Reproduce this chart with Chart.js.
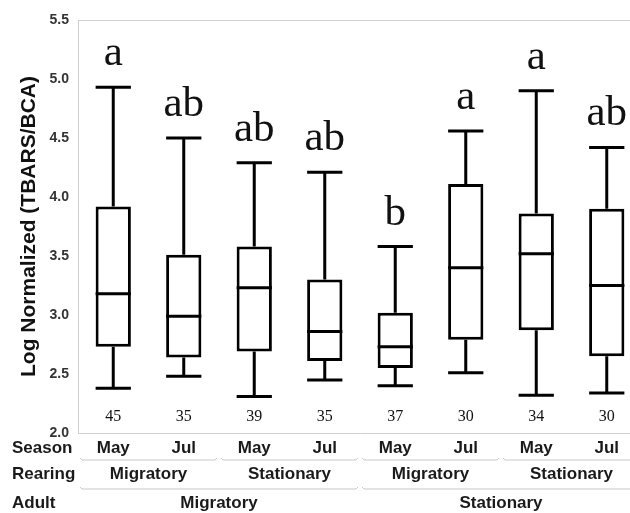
<!DOCTYPE html>
<html>
<head>
<meta charset="utf-8">
<script src="https://cdn.jsdelivr.net/npm/chart.js@4"></script>
<style>
  html, body { margin: 0; padding: 0; background: #fff; overflow: hidden; }
  #wrap { position: relative; width: 642px; height: 513px; }
</style>
</head>
<body>
<div id="wrap"><canvas id="boxChart"></canvas></div>
<script>
// 박스플롯 데이터
const seasons = ['May', 'Jul', 'May', 'Jul', 'May', 'Jul', 'May', 'Jul'];
const rearing = ['Migratory', 'Stationary', 'Migratory', 'Stationary'];
const adult = ['Migratory', 'Stationary'];
const whiskerMin = [2.38, 2.48, 2.31, 2.45, 2.40, 2.51, 2.32, 2.34];
const q1 = [2.73, 2.64, 2.69, 2.61, 2.55, 2.79, 2.87, 2.65];
const median = [3.18, 2.99, 3.23, 2.86, 2.73, 3.40, 3.52, 3.25];
const q3 = [3.92, 3.51, 3.58, 3.30, 3.02, 4.11, 3.86, 3.90];
const whiskerMax = [4.93, 4.50, 4.29, 4.21, 3.58, 4.56, 4.90, 4.42];
const groupLetters = ['a', 'ab', 'ab', 'ab', 'b', 'a', 'a', 'ab'];
const counts = [45, 35, 39, 35, 37, 30, 34, 30];
const yTicks = [2.0, 2.5, 3.0, 3.5, 4.0, 4.5, 5.0, 5.5];

const SANS = '"Liberation Sans", Arial, sans-serif';
const SERIF = '"Liberation Serif", "DejaVu Serif", serif';

/**
 * 수염, 중앙값, 글자, 하단 계층 라벨을 그리는 플러그인
 */
const boxExtras = {
    id: 'boxExtras',
    afterDatasetsDraw(chart) {
        const ctx = chart.ctx;
        const y = chart.scales.y;
        const x = chart.scales.x;
        const area = chart.chartArea;
        const bars = chart.getDatasetMeta(0).data;

        ctx.save();
        // 상단 테두리
        ctx.strokeStyle = '#cfcfcf';
        ctx.lineWidth = 1;
        ctx.beginPath();
        ctx.moveTo(area.left, area.top + 0.5);
        ctx.lineTo(area.right, area.top + 0.5);
        ctx.stroke();

        ctx.strokeStyle = '#000';
        ctx.lineWidth = 3;
        ctx.lineCap = 'butt';
        bars.forEach((bar, i) => {
            const cx = bar.x;
            const half = bar.width / 2;
            const pMin = y.getPixelForValue(whiskerMin[i]);
            const pMax = y.getPixelForValue(whiskerMax[i]);
            const pQ1 = y.getPixelForValue(q1[i]);
            const pQ3 = y.getPixelForValue(q3[i]);
            const pMed = y.getPixelForValue(median[i]);

            ctx.beginPath();
            ctx.moveTo(cx, pQ3);
            ctx.lineTo(cx, pMax);
            ctx.moveTo(cx - half, pMax);
            ctx.lineTo(cx + half, pMax);
            ctx.moveTo(cx, pQ1);
            ctx.lineTo(cx, pMin);
            ctx.moveTo(cx - half, pMin);
            ctx.lineTo(cx + half, pMin);
            ctx.moveTo(cx - half, pMed);
            ctx.lineTo(cx + half, pMed);
            ctx.stroke();

            // 유의성 문자
            ctx.fillStyle = '#111';
            ctx.textAlign = 'center';
            ctx.textBaseline = 'alphabetic';
            ctx.font = '43px ' + SERIF;
            ctx.fillText(groupLetters[i], cx, pMax - 22);

            // 표본 수
            ctx.font = '16px ' + SERIF;
            ctx.textBaseline = 'middle';
            ctx.fillText(String(counts[i]), cx, y.getPixelForValue(2.0) - 16);
        });

        // 하단 계층 라벨
        const bottom = area.bottom;
        const step = x.getPixelForValue(1) - x.getPixelForValue(0);
        ctx.fillStyle = '#1a1a1a';
        ctx.textBaseline = 'middle';
        ctx.font = 'bold 17px ' + SANS;

        ctx.textAlign = 'left';
        ctx.fillText('Season', 12, bottom + 15);
        ctx.fillText('Rearing', 12, bottom + 41);
        ctx.fillText('Adult', 12, bottom + 70);

        ctx.textAlign = 'center';
        seasons.forEach((s, i) => ctx.fillText(s, x.getPixelForValue(i), bottom + 15));

        const bracket = (x0, x1, yy) => {
            ctx.beginPath();
            ctx.moveTo(x0, yy - 2);
            ctx.lineTo(x0 + 2, yy);
            ctx.lineTo(x1 - 2, yy);
            ctx.lineTo(x1, yy - 2);
            ctx.stroke();
        };

        ctx.strokeStyle = '#c8c8c8';
        ctx.lineWidth = 1;
        rearing.forEach((r, j) => {
            const x0 = x.getPixelForValue(j * 2) - step / 2 + 2;
            const x1 = x.getPixelForValue(j * 2 + 1) + step / 2 - 2;
            bracket(x0, x1, bottom + 27);
            ctx.fillText(r, (x0 + x1) / 2, bottom + 41);
        });
        adult.forEach((a, k) => {
            const x0 = x.getPixelForValue(k * 4) - step / 2 + 2;
            const x1 = x.getPixelForValue(k * 4 + 3) + step / 2 - 2;
            bracket(x0, x1, bottom + 56);
            ctx.fillText(a, (x0 + x1) / 2, bottom + 70);
        });
        ctx.restore();
    }
};

window.addEventListener('DOMContentLoaded', () => {
    const ctx = document.getElementById('boxChart').getContext('2d');
    new Chart(ctx, {
        type: 'bar',
        data: {
            labels: seasons.map((s, i) => s + i),
            datasets: [{
                label: 'IQR',
                data: q1.map((v, i) => [v, q3[i]]),
                backgroundColor: '#ffffff',
                borderColor: '#000000',
                borderWidth: 3,
                borderSkipped: false,
                categoryPercentage: 1,
                barPercentage: 0.5
            }]
        },
        options: {
            responsive: true,
            maintainAspectRatio: false,
            animation: false,
            layout: { padding: { top: 20, right: 0, left: 0, bottom: 0 } },
            plugins: {
                legend: { display: false },
                tooltip: { enabled: false },
                title: { display: false }
            },
            scales: {
                x: {
                    grid: { display: false },
                    border: { display: true, color: '#cfcfcf', width: 1 },
                    ticks: { display: false },
                    afterFit: scale => { scale.height = 80; }
                },
                y: {
                    min: 2.0,
                    max: 5.5,
                    afterBuildTicks: scale => {
                        scale.ticks = yTicks.map(v => ({ value: v }));
                    },
                    grid: { display: false, drawTicks: false },
                    border: { display: true, color: '#cfcfcf', width: 1 },
                    ticks: {
                        padding: 9,
                        color: '#333',
                        font: { family: SANS, size: 14, weight: 'bold' },
                        callback: v => Number(v).toFixed(1)
                    },
                    title: {
                        display: true,
                        text: 'Log Normalized (TBARS/BCA)',
                        color: '#111',
                        padding: { top: 17, bottom: 0 },
                        font: { family: SANS, size: 21, weight: 'bold' }
                    },
                    afterFit: scale => { scale.width = 78; }
                }
            }
        },
        plugins: [boxExtras]
    });
});
</script>
</body>
</html>
